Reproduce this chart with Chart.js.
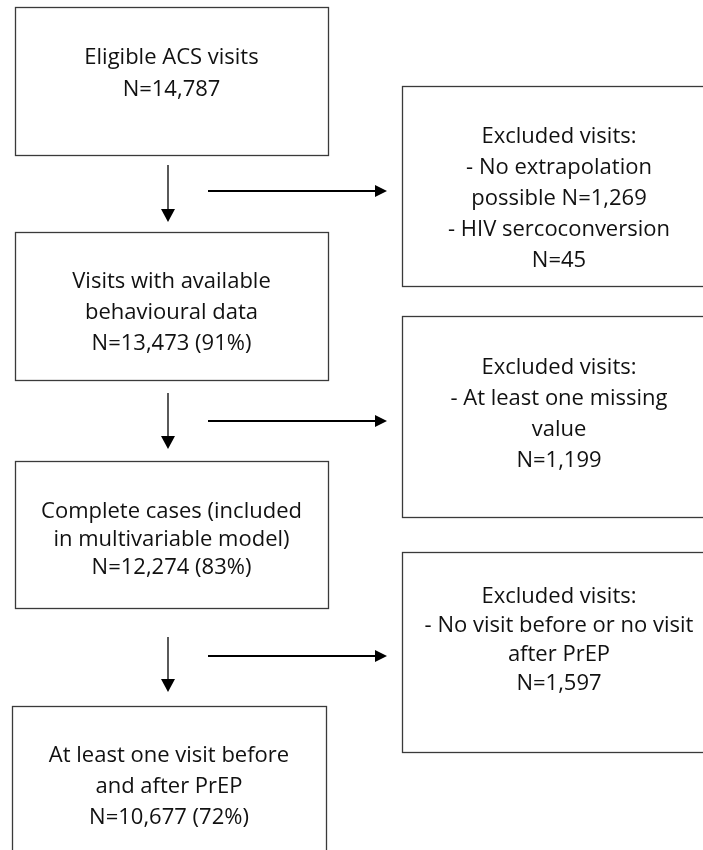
<!DOCTYPE html>
<html>
<head>
<meta charset="utf-8">
<script src="https://cdn.jsdelivr.net/npm/chart.js@4.4.1/dist/chart.umd.min.js"></script>
<style>
  html,body{margin:0;padding:0;background:#fff;}
  #wrap{width:703px;height:850px;}
</style>
</head>
<body>
<div id="wrap"><canvas id="flow" width="703" height="850"></canvas></div>
<script>
// flow data: stages down the left, exclusions to the right
const stageLabels = [
  ['Eligible ACS visits'],
  ['Visits with available', 'behavioural data'],
  ['Complete cases (included', 'in multivariable model)'],
  ['At least one visit before', 'and after PrEP']
];
const stageCounts = [14787, 13473, 12274, 10677];
const exclusionHeader = 'Excluded visits:';
const exclusionReasons = [
  [['- No extrapolation', 'possible'], ['- HIV sercoconversion', '']],
  [['- At least one missing', 'value', '']],
  [['- No visit before or no visit', 'after PrEP', '']]
];
const exclusionCounts = [[1269, 45], [1199], [1597]];

// layout (pixels in a 703 x 850 frame)
const leftBoxX = [[15, 328], [15, 328], [15, 328], [12, 326]];
const leftBoxY = [[7, 155], [232, 380], [461, 608], [706, 880]];
const leftTextY = [58, 282, 512, 756];
const leftLineH = [32, 31, 28, 31];
const rightBoxX = [402, 716];
const rightBoxY = [[86, 286], [316, 517], [552, 752]];
const rightTextY = [137, 368, 597];
const rightLineH = [31, 31, 29];
const downArrows = [[165, 222], [393, 449], [637, 692]];
const downArrowX = 168;
const sideArrowY = [191, 421, 656];
const sideArrowX = [208, 387];

const FONT = '22px "Open Sans", "Noto Sans", sans-serif';
const fmt = n => n.toLocaleString('en-US');

function stageLines(i){
  const lines = stageLabels[i].slice();
  let n = 'N=' + fmt(stageCounts[i]);
  if(i > 0) n += ' (' + Math.round(stageCounts[i] / stageCounts[0] * 100) + '%)';
  lines.push(n);
  return lines;
}

function exclusionLines(i){
  const lines = [exclusionHeader];
  exclusionReasons[i].forEach((r, k) => {
    const last = r.length - 1;
    r.forEach((t, j) => {
      if(j === last){
        const n = 'N=' + fmt(exclusionCounts[i][k]);
        lines.push(t ? t + ' ' + n : n);
      } else lines.push(t);
    });
  });
  return lines;
}

const flowPlugin = {
  id: 'flow',
  afterDraw(chart){
    const ctx = chart.ctx;
    const xs = chart.scales.x, ys = chart.scales.y;
    const px = v => xs.getPixelForValue(v);
    const py = v => ys.getPixelForValue(v);
    ctx.save();
    ctx.font = FONT;
    ctx.textAlign = 'center';
    ctx.textBaseline = 'middle';

    function box(x0, x1, y0, y1){
      ctx.strokeStyle = '#3a3a3a';
      ctx.lineWidth = 1.3;
      ctx.strokeRect(Math.round(px(x0)) + 0.5, Math.round(py(y0)) + 0.5,
        Math.round(px(x1) - px(x0)), Math.round(py(y1) - py(y0)));
    }
    function text(lines, cx, y, lh){
      ctx.fillStyle = '#111';
      lines.forEach((t, j) => ctx.fillText(t, px(cx), py(y + j * lh)));
    }

    stageLabels.forEach((_, i) => {
      const [x0, x1] = leftBoxX[i], [y0, y1] = leftBoxY[i];
      box(x0, x1, y0, y1);
      text(stageLines(i), (x0 + x1) / 2, leftTextY[i], leftLineH[i]);
    });
    exclusionCounts.forEach((_, i) => {
      const [y0, y1] = rightBoxY[i];
      box(rightBoxX[0], rightBoxX[1], y0, y1);
      text(exclusionLines(i), (rightBoxX[0] + rightBoxX[1]) / 2, rightTextY[i], rightLineH[i]);
    });

    ctx.strokeStyle = '#000';
    ctx.fillStyle = '#000';
    ctx.lineWidth = 1.3;
    downArrows.forEach(([a, b]) => {
      const x = px(downArrowX);
      ctx.beginPath();
      ctx.moveTo(x, py(a)); ctx.lineTo(x, py(b) - 10); ctx.stroke();
      ctx.beginPath();
      ctx.moveTo(x - 7, py(b) - 13); ctx.lineTo(x + 7, py(b) - 13); ctx.lineTo(x, py(b));
      ctx.closePath(); ctx.fill();
    });
    sideArrowY.forEach(v => {
      const y = py(v), a = px(sideArrowX[0]), b = px(sideArrowX[1]);
      ctx.lineWidth = 2;
      ctx.beginPath();
      ctx.moveTo(a, y); ctx.lineTo(b - 10, y); ctx.stroke();
      ctx.beginPath();
      ctx.moveTo(b - 12, y - 6); ctx.lineTo(b - 12, y + 6); ctx.lineTo(b, y);
      ctx.closePath(); ctx.fill();
    });
    ctx.restore();
  }
};

new Chart(document.getElementById('flow'), {
  type: 'scatter',
  data: {
    datasets: [{
      data: stageCounts.map((c, i) => ({x: (leftBoxX[i][0] + leftBoxX[i][1]) / 2, y: leftTextY[i]})),
      pointRadius: 0
    }]
  },
  options: {
    responsive: false,
    animation: false,
    devicePixelRatio: 1,
    layout: {padding: 0},
    plugins: {legend: {display: false}, tooltip: {enabled: false}},
    scales: {
      x: {type: 'linear', min: 0, max: 703, display: false},
      y: {type: 'linear', min: 0, max: 850, reverse: true, display: false}
    }
  },
  plugins: [flowPlugin]
});
</script>
</body>
</html>
